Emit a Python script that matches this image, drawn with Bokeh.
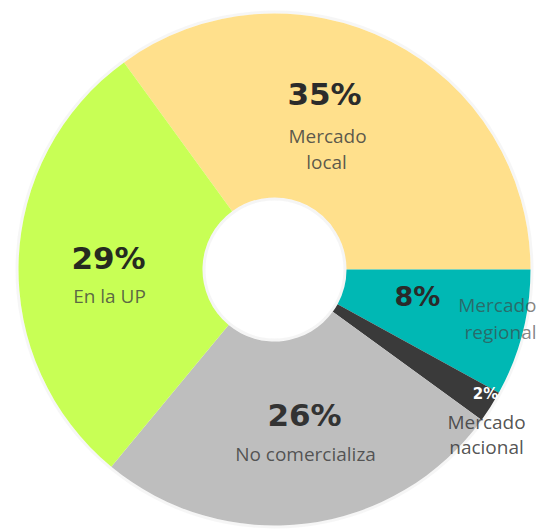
import numpy as np
from bokeh.plotting import figure
from bokeh.models import Range1d
from bokeh.embed import file_html
from bokeh.resources import INLINE
from bokeh.core.properties import value

# ---- data ----
categories = ["Mercado local", "Mercado regional", "Mercado nacional", "No comercializa", "En la UP"]
shares = [35, 8, 2, 26, 29]
pct_labels = ["35%", "8%", "2%", "26%", "29%"]
name_lines = [["Mercado", "local"], ["Mercado", "regional"], ["Mercado", "nacional"],
              ["No comercializa"], ["En la UP"]]
colors = ["#FFE08C", "#00B8B4", "#3A3A3A", "#BEBEBE", "#C8FF55"]

# ---- layout (pixel-like coordinates of the plot frame) ----
W, H = 541, 529
OFF = 0
def px(ix):
    return ix - OFF
def py(iy):
    return H - (iy - OFF)

cx, cy = px(274), py(269)
r_out, r_in = 256, 72
start_offset = -36.0  # degrees clockwise from 12 o'clock

p = figure(width=W, height=H, x_range=Range1d(0, W), y_range=Range1d(0, H),
           output_backend="svg", toolbar_location=None, min_border=0,
           x_axis_type=None, y_axis_type=None)
p.grid.visible = False
p.outline_line_color = None
p.background_fill_color = "white"
p.border_fill_color = "white"

vals = np.array(shares, dtype=float)
cum = np.cumsum(vals) / vals.sum() * 360.0
start_cw = start_offset + np.concatenate([[0.0], cum[:-1]])
end_cw = start_offset + cum
start_ang = np.radians(90.0 - start_cw)
end_ang = np.radians(90.0 - end_cw)

# soft shadow rings
p.annulus(x=cx, y=cy, inner_radius=r_out, outer_radius=r_out + 3,
          fill_color="#8a8a8a", fill_alpha=0.08, line_color=None)

p.annular_wedge(x=[cx] * len(shares), y=[cy] * len(shares),
                inner_radius=r_in, outer_radius=r_out,
                start_angle=list(start_ang), end_angle=list(end_ang),
                direction="clock", fill_color=colors, line_color=None)

p.annulus(x=cx, y=cy, inner_radius=r_in - 3, outer_radius=r_in,
          fill_color="#9a9a9a", fill_alpha=0.1, line_color=None)

# ---- labels (positions are layout) ----
pct_pos = [(324, 93), (417, 296), (485, 393), (304, 414), (108, 257)]
pct_size = ["31px", "27px", "15px", "31px", "31px"]
pct_color = ["#2b2b2b", "#2a2a2a", "#ffffff", "#333333", "#262a20"]

for lab, (ix, iy), fs, col in zip(pct_labels, pct_pos, pct_size, pct_color):
    p.text(x=[px(ix)], y=[py(iy)], text=[lab], text_font=value("DejaVu Sans"),
           text_font_style="bold", text_font_size=fs, text_color=col,
           text_align="center", text_baseline="middle")

name_pos = [
    [(327, 135, "center"), (326, 161, "center")],
    [(536, 304, "right"), (536, 331, "right")],
    [(486, 421, "center"), (486, 446, "center")],
    [(305, 453, "center")],
    [(109, 295, "center")],
]
name_color = ["#404040", "#404040", "#404040", "#404040", "#404040"]
name_alpha = [0.85, 0.65, 0.9, 0.85, 0.8]

for lines, poss, col, al in zip(name_lines, name_pos, name_color, name_alpha):
    for t, (ix, iy, al_h) in zip(lines, poss):
        p.text(x=[px(ix)], y=[py(iy)], text=[t], text_font=value("Open Sans"),
               text_font_size="19px", text_color=col, text_alpha=al,
               text_align=al_h, text_baseline="middle")

open("out.html", "w").write(file_html(p, INLINE))
